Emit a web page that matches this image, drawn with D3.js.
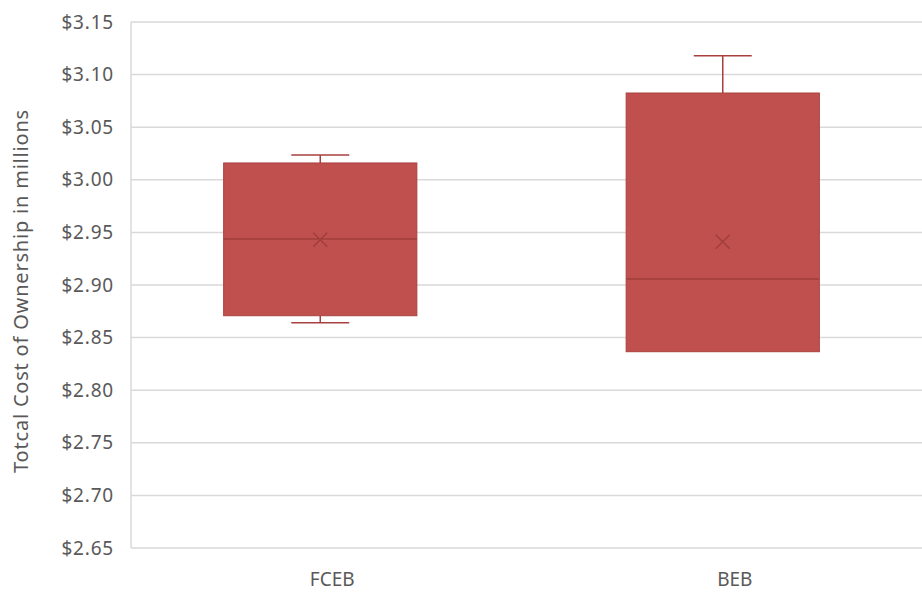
<!DOCTYPE html>
<html>
<head>
<meta charset="utf-8">
<script src="https://cdn.jsdelivr.net/npm/d3@7"></script>
<style>
  html, body { margin: 0; padding: 0; background: #fff; }
  svg { display: block; }
</style>
</head>
<body>
<svg id="chart" width="922" height="592"></svg>
<script>
// ---- Data ----
const categories = ["FCEB", "BEB"];
const whiskerLow  = [2.864, 2.8366];
const q1Values    = [2.8708, 2.8366];
const medianValues= [2.9437, 2.9057];
const q3Values    = [3.016, 3.0825];
const whiskerHigh = [3.0236, 3.118];
const meanValues  = [2.943, 2.9412];
const yTicks = [2.65, 2.70, 2.75, 2.80, 2.85, 2.90, 2.95, 3.00, 3.05, 3.10, 3.15];
const yLabel = "Totcal Cost of Ownership in millions";

// ---- Layout ----
const svg = d3.select("#chart");
const plotLeft = 131, plotRight = 922, plotTop = 22, plotBottom = 548;

const y = d3.scaleLinear().domain([2.65, 3.15]).range([plotBottom, plotTop]);
const x = d3.scaleBand().domain(categories).range([131, 936]).padding(0);
const boxW = x.bandwidth() * 0.48;
const boxShift = -12;

const gridColor = "#d9d9d9";
const textColor = "#595959";
const fill = "#c0504d";
const dark = "#a8413e";
const font = "'Noto Sans', sans-serif";

// gridlines
svg.append("g")
  .selectAll("line")
  .data(yTicks)
  .join("line")
  .attr("x1", plotLeft).attr("x2", plotRight)
  .attr("y1", d => y(d)).attr("y2", d => y(d))
  .attr("stroke", gridColor).attr("stroke-width", 1.5);

// left axis line
svg.append("line")
  .attr("x1", plotLeft).attr("x2", plotLeft)
  .attr("y1", plotTop).attr("y2", plotBottom)
  .attr("stroke", gridColor).attr("stroke-width", 1.5);

// y axis ticks via d3 axis
const yAxis = d3.axisLeft(y).tickValues(yTicks).tickSize(0).tickPadding(17)
  .tickFormat(d => "$" + d3.format(".2f")(d));
const yg = svg.append("g").attr("transform", `translate(${plotLeft},0)`).call(yAxis);
yg.select(".domain").remove();
yg.selectAll("text")
  .attr("font-family", font).attr("font-size", 19).attr("fill", textColor)
  .attr("letter-spacing", 0.8);

// x axis labels
const xAxis = d3.axisBottom(x).tickSize(0).tickPadding(25);
const xg = svg.append("g").attr("transform", `translate(0,${plotBottom})`).call(xAxis);
xg.select(".domain").remove();
xg.selectAll("text")
  .attr("font-family", font).attr("font-size", 19).attr("fill", textColor);

// y label
svg.append("text")
  .attr("transform", `translate(28,291) rotate(-90)`)
  .attr("text-anchor", "middle")
  .attr("font-family", font).attr("font-size", 20).attr("fill", textColor)
  .attr("letter-spacing", 0.8)
  .text(yLabel);

// boxes
const idx = d3.range(categories.length);
const g = svg.append("g");
const cx = i => x(categories[i]) + x.bandwidth() / 2 + boxShift;

// whiskers
idx.forEach(i => {
  const c = cx(i);
  if (whiskerHigh[i] > q3Values[i]) {
    g.append("line").attr("x1", c).attr("x2", c)
      .attr("y1", y(whiskerHigh[i])).attr("y2", y(q3Values[i]))
      .attr("stroke", dark).attr("stroke-width", 1.5);
    g.append("line").attr("x1", c - 29).attr("x2", c + 29)
      .attr("y1", y(whiskerHigh[i])).attr("y2", y(whiskerHigh[i]))
      .attr("stroke", dark).attr("stroke-width", 1.5);
  }
  if (whiskerLow[i] < q1Values[i]) {
    g.append("line").attr("x1", c).attr("x2", c)
      .attr("y1", y(q1Values[i])).attr("y2", y(whiskerLow[i]))
      .attr("stroke", dark).attr("stroke-width", 1.5);
    g.append("line").attr("x1", c - 29).attr("x2", c + 29)
      .attr("y1", y(whiskerLow[i])).attr("y2", y(whiskerLow[i]))
      .attr("stroke", dark).attr("stroke-width", 1.5);
  }
});

g.selectAll("rect.box")
  .data(idx)
  .join("rect")
  .attr("class", "box")
  .attr("x", i => cx(i) - boxW / 2)
  .attr("width", boxW)
  .attr("y", i => y(q3Values[i]))
  .attr("height", i => y(q1Values[i]) - y(q3Values[i]))
  .attr("fill", fill)
  .attr("stroke", dark).attr("stroke-width", 1);

// median
g.selectAll("line.median")
  .data(idx)
  .join("line")
  .attr("class", "median")
  .attr("x1", i => cx(i) - boxW / 2).attr("x2", i => cx(i) + boxW / 2)
  .attr("y1", i => y(medianValues[i])).attr("y2", i => y(medianValues[i]))
  .attr("stroke", "#a03e3b").attr("stroke-width", 1.5);

// mean markers (X)
idx.forEach(i => {
  const c = cx(i), m = y(meanValues[i]), s = 7;
  g.append("path")
    .attr("d", `M${c - s},${m - s}L${c + s},${m + s}M${c - s},${m + s}L${c + s},${m - s}`)
    .attr("stroke", "#a03e3b").attr("stroke-width", 1.5).attr("fill", "none");
});
</script>
</body>
</html>
